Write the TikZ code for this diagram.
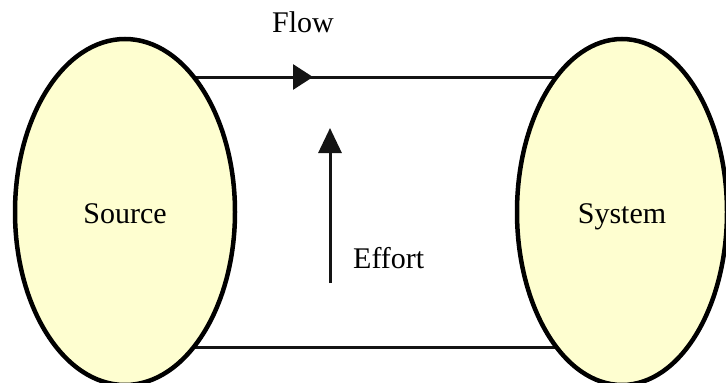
\documentclass[tikz,border=0pt]{standalone}
\usepackage{fontspec}
\setmainfont{Liberation Serif}
\usetikzlibrary{shapes.geometric,arrows.meta,backgrounds}
\definecolor{paleyellow}{RGB}{254,254,208}
\tikzset{
  blob/.style={ellipse, draw=black, fill=paleyellow, line width=4.5pt, inner sep=0pt,
    text height=28pt, text depth=6pt, font=\fontsize{30}{36}\selectfont},
  conn/.style={draw=black!92, line width=3pt},
  lbl/.style={font=\fontsize{30}{36}\selectfont, inner sep=0pt, anchor=base west}
}
\begin{document}
\begin{tikzpicture}[x=1pt,y=-1pt]
\useasboundingbox (0,0) rectangle (726,383);
\node[blob, minimum width=220pt, minimum height=346pt] (src) at (125,212) {Source};
\node[blob, minimum width=210pt, minimum height=346pt] (sys) at (622,212) {System};
\coordinate (ty) at (0,77);
\coordinate (by) at (0,347);
\coordinate (flowtip) at (313,77);
\coordinate (effbase) at (330,283);
\coordinate (efftip) at (330,128);
\begin{scope}[on background layer]
  \draw[conn] (src.center |- ty) -- (sys.center |- ty);
  \draw[conn] (src.center |- by) -- (sys.center |- by);
\end{scope}
\draw[conn, -{Triangle[length=20pt,width=25pt]}] (src.east |- ty) -- (flowtip);
\draw[conn, -{Triangle[length=25pt,width=23pt]}] (effbase) -- (efftip);
\node[lbl] (flow) at (272,32) {Flow};
\node[lbl] (effort) at (353,268) {Effort};
\end{tikzpicture}
\end{document}
